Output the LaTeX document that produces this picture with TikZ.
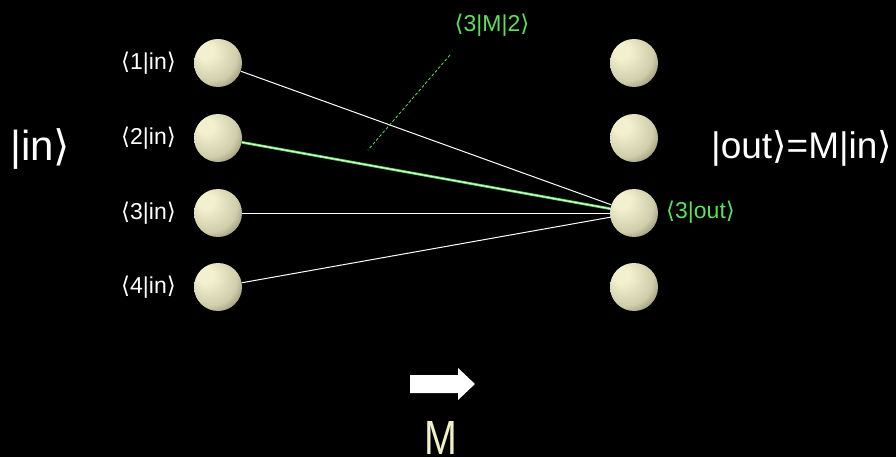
\documentclass[tikz,border=0pt]{standalone}
\usepackage{fontspec}
\setmainfont{Liberation Sans}
\newfontfamily\djv{DejaVu Sans}
\definecolor{ballhi}{HTML}{F2F0CF}
\definecolor{ballmid}{HTML}{CFCDAA}
\definecolor{balllo}{HTML}{4E4D3A}
\definecolor{lgreen}{HTML}{5BE05B}
\definecolor{cream}{HTML}{F2F0C8}
\pgfdeclareradialshading{myball}{\pgfpoint{-14bp}{14bp}}{color(0bp)=(ballhi); color(8bp)=(ballhi); color(28bp)=(ballmid); color(48bp)=(balllo); color(70bp)=(balllo)}
\newcommand{\lb}{{\djv ⟨}}
\newcommand{\rb}{{\djv ⟩}}
\tikzset{
  ball/.style={circle, minimum size=48pt, inner sep=0pt, shading=myball},
  lab/.style={text=white, font=\fontsize{23}{26}\selectfont, inner sep=0pt},
  glab/.style={text=lgreen, font=\fontsize{23}{26}\selectfont, inner sep=0pt},
  big/.style={text=white, font=\fontsize{42}{46}\selectfont, inner sep=0pt},
  conn/.style={white, line width=1pt},
}
\begin{document}
\begin{tikzpicture}[x=1pt,y=-1pt]
\fill[black] (0,0) rectangle (896,457);
\useasboundingbox (0,0) rectangle (896,457);
% balls
\foreach \i/\y in {1/63,2/138,3/213,4/287}{
  \node[ball] (l\i) at (218,\y) {};
  \node[ball] (r\i) at (634,\y) {};
}
% labels
\foreach \i/\y in {1/63,2/138,3/213,4/287}{
  \node[lab, anchor=east] (t\i) at (176,\y) {\lb\i|in\rb};
}
% connectors
\draw[conn] (l1) -- (r3);
\draw[lgreen, line width=2.6pt] (l2) -- (r3);
\draw[white, line width=0.8pt] (l2) -- (r3);
\draw[conn] (l3) -- (r3);
\draw[conn] (l4) -- (r3);
% green labels
\node[glab, anchor=west] (o3) at (666,212) {\lb3|out\rb};
\node[glab] (m32) at (492,25) {\lb3|M|2\rb};
\coordinate (d1) at (450,55);
\coordinate (d2) at (368,150);
\draw[lgreen, dashed, dash pattern=on 3pt off 2pt, line width=0.8pt] (d1) -- (d2);
% big texts
\node[big, anchor=west] (in) at (10,149) {|in\rb};
\node[big, anchor=west, font=\fontsize{37}{40}\selectfont] (out) at (711,148) {|out\rb=M|in\rb};
% arrow
\fill[white] (410,375) -- (458,375) -- (458,368) -- (475,384) -- (458,400) -- (458,393) -- (410,393) -- cycle;
\node[text=cream, font=\fontsize{48}{50}\selectfont, inner sep=0pt, anchor=base] (M) at (441,454) {\scalebox{0.82}[1]{M}};
\end{tikzpicture}
\end{document}
